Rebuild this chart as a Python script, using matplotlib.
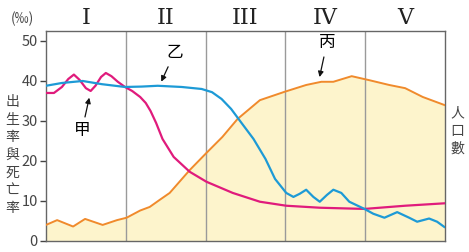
import matplotlib.pyplot as plt

plt.rcParams['font.family'] = ['Noto Sans CJK TC', 'DejaVu Sans']

# stages
stages = ['I', 'II', 'III', 'IV', 'V']

# birth rate (甲)
birth_x = [0.0, 0.1, 0.2, 0.28, 0.35, 0.42, 0.5, 0.56, 0.62, 0.69, 0.75, 0.82,
           0.9, 0.99, 1.08, 1.18, 1.25, 1.31, 1.38, 1.46, 1.6, 1.8, 2.01, 2.34,
           2.68, 3.01, 3.43, 3.99, 4.5, 4.99]
birth_y = [37.0, 37.0, 38.5, 40.5, 41.6, 40.3, 38.2, 37.5, 38.8, 41.0, 42.0, 41.2,
           39.8, 38.5, 37.5, 36.0, 34.5, 32.5, 29.5, 25.5, 21.0, 17.3, 14.8, 12.0,
           9.8, 8.8, 8.3, 8.0, 8.8, 9.4]

# death rate (乙)
death_x = [0.0, 0.2, 0.46, 0.7, 0.99, 1.2, 1.4, 1.7, 1.95, 2.08, 2.2, 2.32, 2.45,
           2.6, 2.75, 2.87, 3.01, 3.1, 3.18, 3.26, 3.35, 3.43, 3.52, 3.6, 3.7,
           3.8, 3.99, 4.1, 4.24, 4.4, 4.55, 4.65, 4.8, 4.9, 4.99]
death_y = [38.8, 39.5, 40.0, 39.2, 38.5, 38.6, 38.8, 38.5, 38.0, 37.2, 35.5, 33.0,
           29.5, 25.5, 20.5, 15.5, 12.0, 11.0, 11.8, 12.8, 11.0, 9.8, 11.5, 12.8,
           12.0, 9.8, 8.0, 6.8, 5.8, 7.2, 5.8, 4.8, 5.6, 4.8, 3.5]

# population (丙)
pop_x = [0.0, 0.14, 0.34, 0.49, 0.71, 0.89, 1.01, 1.18, 1.3, 1.42, 1.55, 1.8,
         2.01, 2.21, 2.4, 2.68, 2.99, 3.26, 3.45, 3.6, 3.83, 4.05, 4.3, 4.5,
         4.72, 4.99]
pop_y = [4.0, 5.2, 3.6, 5.5, 4.0, 5.2, 5.8, 7.6, 8.5, 10.2, 12.0, 17.7,
         22.0, 26.0, 30.5, 35.2, 37.3, 39.0, 39.8, 39.8, 41.2, 40.2, 39.0, 38.2,
         36.0, 34.0]

fig = plt.figure(figsize=(4.69, 2.52), dpi=100)
ax = fig.add_axes([0.098, 0.044, 0.851, 0.833])

ax.fill_between(pop_x, pop_y, 0, color='#fdf4cc', zorder=1)
ax.plot(pop_x, pop_y, color='#f08a2c', lw=1.4, zorder=3)
ax.plot(birth_x, birth_y, color='#e01b7c', lw=1.6, zorder=4)
ax.plot(death_x, death_y, color='#1d9ad6', lw=1.6, zorder=5)

for xv in [1, 2, 3, 4]:
    ax.axvline(xv, color='#9a9a9a', lw=1.0, zorder=2)

ax.set_xlim(0, 5)
ax.set_ylim(0, 52.5)
ax.set_xticks([])
ax.set_yticks([0, 10, 20, 30, 40, 50])
ax.tick_params(axis='y', length=4, width=1, colors='#444444', labelsize=10.5, pad=2)
for s in ax.spines.values():
    s.set_color('#666666')
    s.set_linewidth(1.0)

for i, s in enumerate(stages):
    ax.text(i + 0.5, 55.8, s, ha='center', va='center', fontsize=16,
            family='DejaVu Serif', color='#222222')

fig.text(0.047, 0.925, '(‰)', ha='center', va='center', fontsize=10, color='#444444')
fig.text(0.026, 0.385, '出\n生\n率\n與\n死\n亡\n率', ha='center', va='center',
         fontsize=10, color='#444444', linespacing=1.32)
fig.text(0.975, 0.48, '人\n口\n數', ha='center', va='center',
         fontsize=10, color='#444444', linespacing=1.32)

arrow = dict(arrowstyle='-|>', color='#111111', lw=0.9, mutation_scale=8)
ax.annotate('甲', xy=(0.55, 36.5), xytext=(0.45, 27.5), fontsize=12,
            ha='center', va='center', arrowprops=arrow)
ax.annotate('乙', xy=(1.43, 39.2), xytext=(1.61, 47.0), fontsize=12,
            ha='center', va='center', arrowprops=arrow)
ax.annotate('丙', xy=(3.42, 40.3), xytext=(3.52, 49.5), fontsize=12,
            ha='center', va='center', arrowprops=arrow)

fig.savefig('out.png', dpi=100)
